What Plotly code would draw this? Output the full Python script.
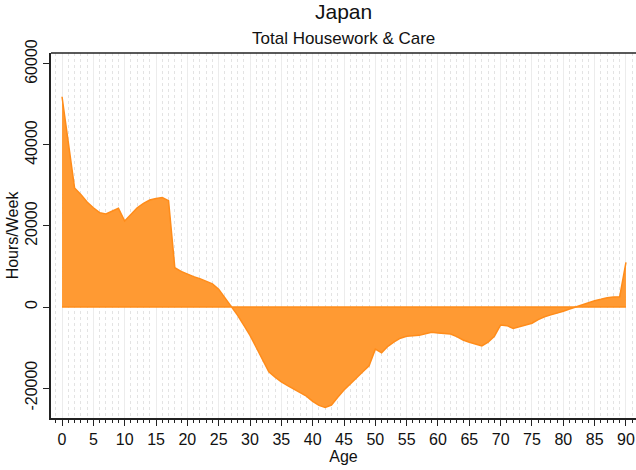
import plotly.graph_objects as go

ages = list(range(0, 91))
values = [
    51900, 40500, 29400, 27800, 25900, 24500, 23300, 22960, 23600, 24360,  # 0-9
    21230, 23000, 24500, 25600, 26400, 26800, 27000, 26250, 9700, 8800,    # 10-19
    8100, 7500, 7000, 6400, 5700, 4400, 2200, 300, -2000, -4500,           # 20-29
    -7000, -10000, -13000, -16000, -17300, -18500, -19400, -20300, -21000, -22000,  # 30-39
    -23300, -24300, -24800, -24200, -22300, -20500, -19000, -17400, -16000, -14500,  # 40-49
    -10400, -11300, -9700, -8600, -7700, -7200, -7100, -7000, -6600, -6250,  # 50-59
    -6400, -6600, -6670, -7300, -8150, -8700, -9200, -9630, -8700, -7200,  # 60-69
    -4440, -4600, -5270, -4860, -4600, -4000, -3100, -2400, -1950, -1560,  # 70-79
    -1050, -500, 0, 500, 1100, 1560, 1900, 2300, 2450, 2550,               # 80-89
    11000,                                                                   # 90
]

x_ticks = list(range(0, 91, 5))
y_ticks = [-20000, 0, 20000, 40000, 60000]

fill_color = "#FF9A33"
line_color = "#FF8C1A"

fig = go.Figure()
fig.add_trace(go.Scatter(
    x=ages, y=values, mode="lines", fill="tozeroy",
    fillcolor=fill_color, line=dict(color=line_color, width=1.5),
    hoverinfo="skip", showlegend=False,
))
fig.add_trace(go.Scatter(
    x=[ages[0], ages[-1]], y=[0, 0], mode="lines",
    line=dict(color=line_color, width=1.5), hoverinfo="skip", showlegend=False,
))

font_family = "Liberation Sans, Arial, sans-serif"

fig.update_layout(
    width=636, height=470,
    margin=dict(l=51, r=0, t=53, b=52, autoexpand=False),
    paper_bgcolor="white", plot_bgcolor="white",
    font=dict(family=font_family, color="#111111", size=15),
    showlegend=False,
    annotations=[
        dict(text="Japan", x=0.5, y=1, xref="paper", yref="paper",
             xanchor="center", yanchor="bottom", yshift=28, showarrow=False,
             font=dict(size=21, family=font_family, color="#111111")),
        dict(text="Total Housework & Care", x=0.5, y=1, xref="paper", yref="paper",
             xanchor="center", yanchor="bottom", yshift=3, showarrow=False,
             font=dict(size=17, family=font_family, color="#111111")),
    ],
)

fig.update_xaxes(
    range=[-1.76, 91.6], automargin=False,
    tickvals=x_ticks, ticktext=[str(t) for t in x_ticks],
    ticks="outside", ticklen=6, tickwidth=1, tickcolor="#222222",
    showline=True, linecolor="#222222", linewidth=1.5, mirror=False,
    showgrid=True, gridcolor="#ececec", gridwidth=1,
    minor=dict(dtick=1, tick0=0, ticks="outside", ticklen=3, tickcolor="#222222",
               showgrid=True, gridcolor="#e3e3e3", griddash="dot", gridwidth=1),
    zeroline=False,
    title=dict(text="Age", standoff=0, font=dict(size=16)),
    tickfont=dict(size=16),
)

fig.update_yaxes(
    range=[-27400, 62700], automargin=False,
    tickvals=y_ticks, ticktext=[str(t) for t in y_ticks],
    tickangle=-90,
    ticks="outside", ticklen=6, tickwidth=1, tickcolor="#222222",
    showline=True, linecolor="#222222", linewidth=1.5,
    showgrid=False, zeroline=False,
    title=dict(text="Hours/Week", standoff=0, font=dict(size=16)),
    tickfont=dict(size=16),
)

# top border line
fig.add_shape(type="line", xref="paper", yref="paper", x0=0, x1=1, y0=1, y1=1,
              line=dict(color="#222222", width=1.5))

fig.write_html("out.html",
               config={"displayModeBar": False},
               post_script="document.body.style.margin='0';document.body.style.overflow='hidden';")
